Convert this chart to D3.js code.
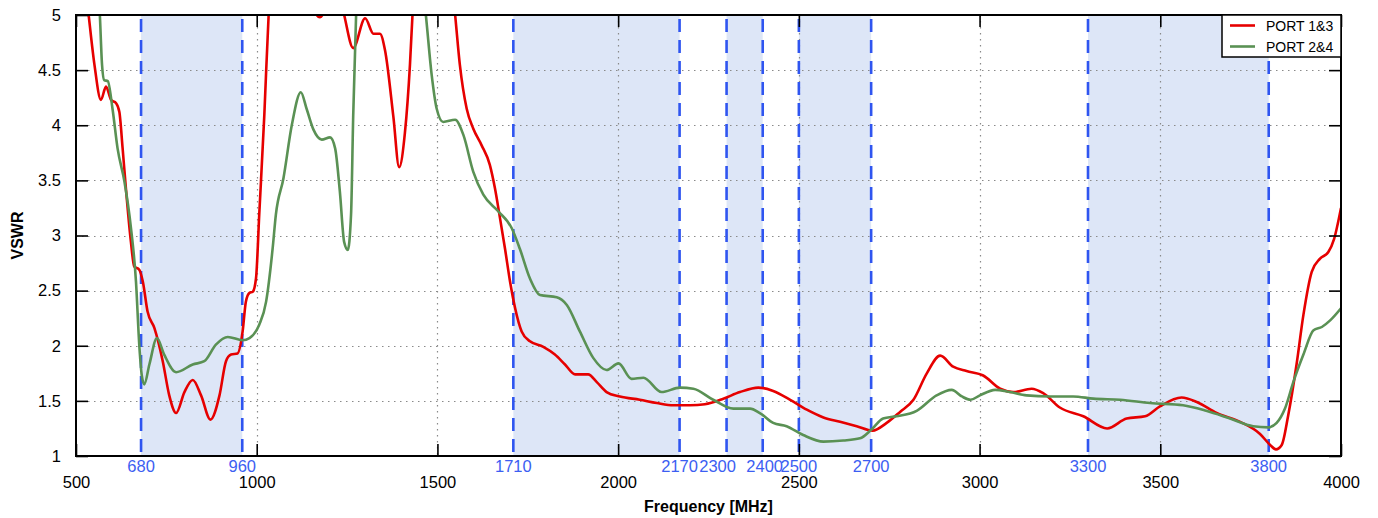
<!DOCTYPE html>
<html>
<head>
<meta charset="utf-8">
<script src="https://cdn.jsdelivr.net/npm/d3@7"></script>
<style>
  html, body { margin: 0; padding: 0; background: #fff; }
  svg { display: block; }
  text { font-family: "Liberation Sans", Arial, sans-serif; }
</style>
</head>
<body>
<svg id="chart" width="1378" height="518"></svg>
<script>
// Frequency ticks, VSWR ticks and band edges
const freqTicks = [500, 1000, 1500, 2000, 2500, 3000, 3500, 4000];
const vswrTicks = [1, 1.5, 2, 2.5, 3, 3.5, 4, 4.5, 5];
const bands = [[680, 960], [1710, 2170], [2300, 2400], [2500, 2700], [3300, 3800]];
const bandEdges = [680, 960, 1710, 2170, 2300, 2400, 2500, 2700, 3300, 3800];

// Measured VSWR, PORT 1&3
const port13Freq = [520, 535, 551, 569, 583, 597, 611, 620, 629, 638, 652, 661, 675, 685, 698, 717, 740, 758, 777, 800, 823, 846, 872, 897, 915, 929, 947, 961, 970, 980, 989, 998, 1007, 1021, 1033, 1060, 1100, 1140, 1175, 1205, 1225, 1242, 1267, 1300, 1323, 1341, 1355, 1378, 1394, 1410, 1424, 1431, 1460, 1500, 1530, 1549, 1562, 1581, 1599, 1622, 1645, 1659, 1673, 1687, 1701, 1715, 1733, 1756, 1793, 1825, 1853, 1881, 1917, 1941, 1968, 2005, 2060, 2107, 2153, 2199, 2240, 2291, 2337, 2388, 2429, 2476, 2522, 2568, 2614, 2660, 2704, 2743, 2780, 2817, 2854, 2891, 2927, 2964, 3010, 3057, 3093, 3144, 3176, 3222, 3287, 3353, 3407, 3458, 3499, 3559, 3601, 3656, 3721, 3776, 3804, 3820, 3836, 3854, 3877, 3896, 3919, 3942, 3965, 3981, 4000];
const port13Vswr = [5.45, 5.0, 4.55, 4.23, 4.35, 4.23, 4.2, 4.12, 3.79, 3.43, 2.94, 2.72, 2.69, 2.58, 2.31, 2.16, 1.86, 1.55, 1.39, 1.58, 1.69, 1.55, 1.33, 1.55, 1.86, 1.92, 1.93, 2.13, 2.40, 2.48, 2.49, 2.61, 3.19, 4.09, 5.0, 5.8, 5.9, 5.2, 4.98, 5.15, 5.25, 5.0, 4.70, 4.97, 4.83, 4.83, 4.68, 4.08, 3.62, 3.93, 4.55, 5.0, 5.8, 6.2, 5.6, 5.0, 4.55, 4.15, 3.97, 3.82, 3.64, 3.43, 3.16, 2.88, 2.58, 2.34, 2.13, 2.04, 1.99, 1.92, 1.83, 1.74, 1.74, 1.67, 1.58, 1.54, 1.51, 1.48, 1.46, 1.46, 1.47, 1.52, 1.58, 1.62, 1.59, 1.51, 1.42, 1.35, 1.31, 1.27, 1.23, 1.30, 1.40, 1.51, 1.75, 1.91, 1.81, 1.77, 1.73, 1.61, 1.58, 1.61, 1.57, 1.44, 1.36, 1.25, 1.34, 1.36, 1.45, 1.53, 1.49, 1.39, 1.31, 1.20, 1.10, 1.06, 1.10, 1.37, 1.83, 2.28, 2.67, 2.79, 2.85, 2.97, 3.25];

// Measured VSWR, PORT 2&4
const port24Freq = [545, 566, 572, 578, 588, 601, 615, 634, 652, 666, 675, 682, 689, 703, 724, 744, 777, 823, 855, 887, 920, 961, 980, 1007, 1026, 1044, 1053, 1074, 1097, 1122, 1138, 1157, 1180, 1203, 1217, 1230, 1242, 1252, 1261, 1267, 1275, 1300, 1380, 1440, 1468, 1484, 1498, 1516, 1549, 1572, 1599, 1627, 1668, 1705, 1728, 1756, 1784, 1830, 1858, 1894, 1931, 1968, 2001, 2037, 2070, 2120, 2171, 2208, 2263, 2319, 2365, 2392, 2429, 2466, 2512, 2568, 2623, 2669, 2701, 2733, 2770, 2826, 2881, 2923, 2951, 2975, 3001, 3043, 3084, 3130, 3195, 3259, 3315, 3389, 3472, 3563, 3627, 3693, 3757, 3799, 3822, 3845, 3868, 3896, 3924, 3947, 3970, 4000];
const port24Vswr = [6.0, 5.0, 4.55, 4.41, 4.40, 4.15, 3.79, 3.49, 3.07, 2.58, 2.01, 1.73, 1.65, 1.83, 2.07, 1.92, 1.76, 1.83, 1.86, 2.01, 2.08, 2.05, 2.07, 2.19, 2.40, 2.88, 3.19, 3.52, 4.0, 4.30, 4.15, 3.96, 3.87, 3.89, 3.79, 3.40, 2.94, 2.87, 3.19, 4.09, 5.0, 6.0, 6.5, 5.8, 5.0, 4.46, 4.15, 4.03, 4.05, 3.91, 3.58, 3.37, 3.22, 3.07, 2.88, 2.61, 2.46, 2.44, 2.37, 2.13, 1.89, 1.78, 1.84, 1.70, 1.71, 1.58, 1.62, 1.61, 1.51, 1.43, 1.43, 1.39, 1.30, 1.27, 1.19, 1.13, 1.14, 1.16, 1.24, 1.34, 1.36, 1.41, 1.55, 1.60, 1.54, 1.51, 1.55, 1.60, 1.58, 1.55, 1.54, 1.54, 1.52, 1.51, 1.48, 1.46, 1.41, 1.34, 1.27, 1.26, 1.30, 1.43, 1.67, 1.92, 2.14, 2.17, 2.23, 2.34];

const seriesNames = ["PORT 1&3", "PORT 2&4"];
const seriesColors = ["#e60000", "#5a9154"];

const svg = d3.select("#chart");
const plot = { left: 76, right: 1341, top: 15, bottom: 456 };

const x = d3.scaleLinear().domain([500, 4000]).range([plot.left, plot.right]);
const y = d3.scaleLinear().domain([1, 5]).range([plot.bottom, plot.top]);

svg.append("defs").append("clipPath").attr("id", "plotClip")
  .append("rect")
  .attr("x", plot.left).attr("y", plot.top)
  .attr("width", plot.right - plot.left).attr("height", plot.bottom - plot.top);

// Frequency bands
svg.append("g").selectAll("rect").data(bands).join("rect")
  .attr("x", d => x(d[0])).attr("y", plot.top)
  .attr("width", d => x(d[1]) - x(d[0]))
  .attr("height", plot.bottom - plot.top)
  .attr("fill", "#dde6f7");

// Dotted grid
const grid = svg.append("g").attr("stroke", "#8a8a8a").attr("stroke-width", 1.2)
  .attr("stroke-dasharray", "1.5,4.5").attr("fill", "none");
grid.selectAll("line.v").data(freqTicks.slice(1, -1)).join("line")
  .attr("x1", d => Math.round(x(d)) + 0.5).attr("x2", d => Math.round(x(d)) + 0.5)
  .attr("y1", plot.top).attr("y2", plot.bottom);
grid.selectAll("line.h").data(vswrTicks.slice(1, -1)).join("line")
  .attr("x1", plot.left).attr("x2", plot.right)
  .attr("y1", d => Math.round(y(d)) + 0.5).attr("y2", d => Math.round(y(d)) + 0.5);

// Band edge markers
svg.append("g").selectAll("line").data(bandEdges).join("line")
  .attr("x1", d => x(d)).attr("x2", d => x(d))
  .attr("y1", plot.top).attr("y2", plot.bottom)
  .attr("stroke", "#2f55f0").attr("stroke-width", 2.6)
  .attr("stroke-dasharray", "13,8").attr("stroke-dashoffset", -4);

// Curves
const line = d3.line().x(d => x(d[0])).y(d => y(d[1])).curve(d3.curveMonotoneX);
const seriesData = [
  d3.zip(port13Freq, port13Vswr),
  d3.zip(port24Freq, port24Vswr)
];
svg.append("g").attr("clip-path", "url(#plotClip)")
  .selectAll("path").data(seriesData).join("path")
  .attr("d", line)
  .attr("fill", "none")
  .attr("stroke", (d, i) => seriesColors[i])
  .attr("stroke-width", 2.6)
  .attr("stroke-linejoin", "round");

// Axes with inward ticks on all four sides
const axisStyle = g => {
  g.select(".domain").remove();
  g.selectAll(".tick line").attr("stroke", "#000").attr("stroke-width", 1.6);
  g.selectAll(".tick text").attr("font-size", 16.5).attr("fill", "#000")
    .attr("font-family", "Liberation Sans, Arial, sans-serif");
};
svg.append("g").attr("transform", `translate(0,${plot.bottom})`)
  .call(d3.axisBottom(x).tickValues(freqTicks).tickSize(-12).tickPadding(20).tickFormat(d3.format("d")))
  .call(axisStyle);
svg.append("g").attr("transform", `translate(0,${plot.top})`)
  .call(d3.axisTop(x).tickValues(freqTicks).tickSize(-12).tickFormat(""))
  .call(axisStyle);
svg.append("g").attr("transform", `translate(${plot.left},0)`)
  .call(d3.axisLeft(y).tickValues(vswrTicks).tickSize(-12).tickPadding(15).tickFormat(d => d))
  .call(axisStyle);
svg.append("g").attr("transform", `translate(${plot.right},0)`)
  .call(d3.axisRight(y).tickValues(vswrTicks).tickSize(-12).tickFormat(""))
  .call(axisStyle);

// Band edge labels; the 2300 label sits a little left so it clears the 2400 one
svg.append("g").selectAll("text").data(bandEdges).join("text")
  .attr("x", d => x(d)).attr("y", 472)
  .attr("dx", d => d === 2300 ? -9 : (d === 2400 ? 2 : 0))
  .attr("text-anchor", "middle").attr("font-size", 16.5)
  .attr("fill", "#3c5ef2")
  .text(d => d);

// Frame
svg.append("rect")
  .attr("x", plot.left).attr("y", plot.top)
  .attr("width", plot.right - plot.left).attr("height", plot.bottom - plot.top)
  .attr("fill", "none").attr("stroke", "#000").attr("stroke-width", 2);

// Axis titles
svg.append("text").attr("x", (plot.left + plot.right) / 2).attr("y", 512)
  .attr("text-anchor", "middle").attr("font-size", 16).attr("font-weight", "bold")
  .text("Frequency [MHz]");
svg.append("text")
  .attr("transform", `translate(23,${(plot.top + plot.bottom) / 2}) rotate(-90)`)
  .attr("text-anchor", "middle").attr("font-size", 16).attr("font-weight", "bold")
  .text("VSWR");

// Legend
const legend = svg.append("g");
legend.append("rect")
  .attr("x", 1222).attr("y", plot.top).attr("width", plot.right - 1222).attr("height", 42)
  .attr("fill", "#fff").attr("stroke", "#000").attr("stroke-width", 1.5);
seriesNames.forEach((name, i) => {
  const ly = 25.5 + i * 21;
  legend.append("line").attr("x1", 1230).attr("x2", 1255).attr("y1", ly).attr("y2", ly)
    .attr("stroke", seriesColors[i]).attr("stroke-width", 2.6);
  legend.append("text").attr("x", 1266).attr("y", ly + 5)
    .attr("font-size", 14).attr("fill", "#000").text(name);
});
</script>
</body>
</html>
